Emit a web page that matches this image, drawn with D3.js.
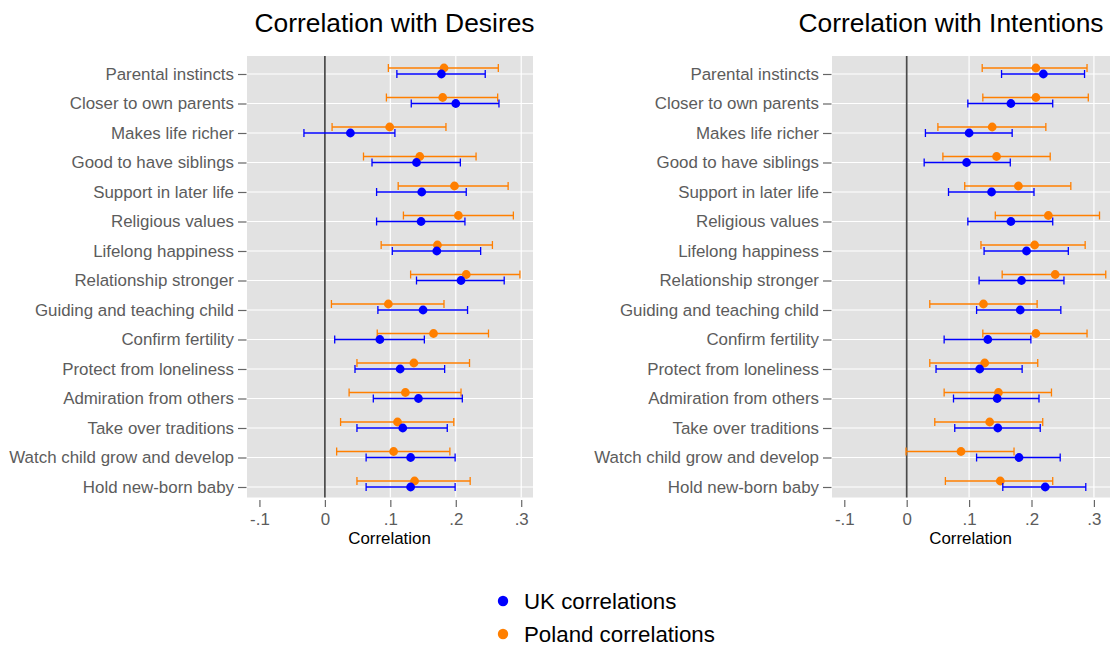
<!DOCTYPE html>
<html>
<head>
<meta charset="utf-8">
<script src="https://d3js.org/d3.v7.min.js"></script>
<style>
  body { margin: 0; background: #fff; }
  svg text { font-family: "Liberation Sans", Arial, sans-serif; }
  .cat { fill: #5c5c5c; font-size: 16.9px; }
  .tick-label { fill: #5c5c5c; font-size: 16.9px; }
  .ptitle { fill: #000; font-size: 26.4px; }
  .xtitle { fill: #000; font-size: 16.9px; }
  .legend { fill: #000; font-size: 22.3px; }
</style>
</head>
<body>
<svg width="1112" height="646"></svg>
<script>
// categories, top to bottom
var categories = [
  "Parental instincts", "Closer to own parents", "Makes life richer",
  "Good to have siblings", "Support in later life", "Religious values",
  "Lifelong happiness", "Relationship stronger", "Guiding and teaching child",
  "Confirm fertility", "Protect from loneliness", "Admiration from others",
  "Take over traditions", "Watch child grow and develop", "Hold new-born baby"
];

var tickValues = [-0.1, 0, 0.1, 0.2, 0.3];
var tickLabels = ["-.1", "0", ".1", ".2", ".3"];

// Desires: [estimate, low, high]
var desiresUK = [
  [0.178, 0.110, 0.245], [0.200, 0.132, 0.266], [0.039, -0.032, 0.107],
  [0.140, 0.072, 0.207], [0.148, 0.079, 0.216], [0.147, 0.079, 0.214],
  [0.171, 0.103, 0.238], [0.208, 0.140, 0.274], [0.150, 0.081, 0.218],
  [0.084, 0.015, 0.152], [0.115, 0.046, 0.183], [0.143, 0.074, 0.210],
  [0.119, 0.049, 0.187], [0.131, 0.063, 0.199], [0.131, 0.063, 0.199]
];
var desiresPL = [
  [0.182, 0.097, 0.265], [0.180, 0.094, 0.264], [0.099, 0.011, 0.185],
  [0.145, 0.059, 0.231], [0.198, 0.112, 0.280], [0.204, 0.120, 0.288],
  [0.172, 0.086, 0.256], [0.216, 0.131, 0.298], [0.097, 0.010, 0.182],
  [0.166, 0.080, 0.250], [0.136, 0.049, 0.221], [0.123, 0.037, 0.208],
  [0.111, 0.024, 0.197], [0.105, 0.018, 0.191], [0.137, 0.049, 0.222]
];

// Intentions: [estimate, low, high]
var intentionsUK = [
  [0.219, 0.152, 0.285], [0.167, 0.098, 0.234], [0.100, 0.030, 0.169],
  [0.096, 0.028, 0.166], [0.136, 0.067, 0.204], [0.167, 0.098, 0.234],
  [0.192, 0.124, 0.259], [0.184, 0.116, 0.252], [0.182, 0.112, 0.247],
  [0.130, 0.060, 0.199], [0.117, 0.047, 0.185], [0.145, 0.075, 0.212],
  [0.146, 0.077, 0.214], [0.180, 0.112, 0.246], [0.222, 0.154, 0.287]
];
var intentionsPL = [
  [0.207, 0.121, 0.289], [0.207, 0.122, 0.291], [0.137, 0.050, 0.223],
  [0.144, 0.058, 0.230], [0.179, 0.093, 0.263], [0.227, 0.142, 0.309],
  [0.205, 0.119, 0.286], [0.238, 0.153, 0.319], [0.123, 0.037, 0.209],
  [0.207, 0.122, 0.289], [0.125, 0.037, 0.210], [0.147, 0.060, 0.232],
  [0.133, 0.045, 0.218], [0.087, -0.001, 0.172], [0.150, 0.062, 0.234]
];

var seriesNames = ["UK correlations", "Poland correlations"];
var seriesColors = ["#0000ff", "#ff7f00"];

var svg = d3.select("svg");

function toRows(arr) {
  return arr.map(function (d, i) {
    return { cat: categories[i], est: d[0], lo: d[1], hi: d[2] };
  });
}

function drawPanel(opts) {
  var x = d3.scaleLinear().domain(opts.domain).range([opts.left, opts.right]);
  var y = d3.scalePoint().domain(categories).range([74, 487]);
  var top = 56, bottom = 497.5;
  // dodge: UK on the row, Poland a bit above
  var dodge = d3.scaleOrdinal().domain([0, 1]).range([0, -6]);

  var g = svg.append("g");

  g.append("rect")
    .attr("x", opts.left).attr("y", top)
    .attr("width", opts.right - opts.left).attr("height", bottom - top)
    .attr("fill", "#e2e2e2");

  // grid
  g.selectAll(".hgrid").data(categories).enter().append("line")
    .attr("x1", opts.left).attr("x2", opts.right)
    .attr("y1", function (d) { return y(d); })
    .attr("y2", function (d) { return y(d); })
    .attr("stroke", "#fff").attr("stroke-width", 1.2);
  g.selectAll(".vgrid").data([0.1, 0.2, 0.3]).enter().append("line")
    .attr("x1", function (d) { return x(d); })
    .attr("x2", function (d) { return x(d); })
    .attr("y1", top).attr("y2", bottom)
    .attr("stroke", "#fff").attr("stroke-width", 1.2);

  // zero line
  g.append("line")
    .attr("x1", x(0)).attr("x2", x(0))
    .attr("y1", top).attr("y2", bottom)
    .attr("stroke", "#4a4a4a").attr("stroke-width", 1.7);

  // y axis
  var ya = g.append("g")
    .attr("transform", "translate(" + (opts.left - 0.5) + ",0)")
    .call(d3.axisLeft(y).tickSize(8.5).tickPadding(4));
  ya.select(".domain").remove();
  ya.selectAll("line").attr("stroke", "#666").attr("stroke-width", 1.2);
  ya.selectAll("text").attr("class", "cat").attr("font-size", null)
    .attr("font-family", null).attr("fill", null);

  // x axis
  var xa = g.append("g")
    .attr("transform", "translate(0," + (bottom + 2.5) + ")")
    .call(d3.axisBottom(x).tickValues(tickValues).tickSize(7).tickPadding(6)
      .tickFormat(function (d, i) { return tickLabels[i]; }));
  xa.select(".domain").remove();
  xa.selectAll("line").attr("stroke", "#666").attr("stroke-width", 1.2);
  xa.selectAll("text").attr("class", "tick-label").attr("font-size", null)
    .attr("font-family", null).attr("fill", null);

  g.append("text").attr("class", "xtitle")
    .attr("x", (opts.left + opts.right) / 2 - 0.5).attr("y", 544)
    .attr("text-anchor", "middle").text("Correlation");

  g.append("text").attr("class", "ptitle")
    .attr("x", opts.titleX).attr("y", 32)
    .attr("text-anchor", "middle").text(opts.title);

  // series: draw Poland first then UK on top
  [1, 0].forEach(function (s) {
    var rows = toRows(opts.series[s]);
    var col = seriesColors[s];
    var sg = g.append("g");
    var cap = 4;
    sg.selectAll(".bar").data(rows).enter().append("line")
      .attr("x1", function (d) { return x(d.lo); })
      .attr("x2", function (d) { return x(d.hi); })
      .attr("y1", function (d) { return y(d.cat) + dodge(s); })
      .attr("y2", function (d) { return y(d.cat) + dodge(s); })
      .attr("stroke", col).attr("stroke-width", 1.3);
    sg.selectAll(".capl").data(rows).enter().append("line")
      .attr("x1", function (d) { return x(d.lo); })
      .attr("x2", function (d) { return x(d.lo); })
      .attr("y1", function (d) { return y(d.cat) + dodge(s) - cap; })
      .attr("y2", function (d) { return y(d.cat) + dodge(s) + cap; })
      .attr("stroke", col).attr("stroke-width", 1.3);
    sg.selectAll(".caph").data(rows).enter().append("line")
      .attr("x1", function (d) { return x(d.hi); })
      .attr("x2", function (d) { return x(d.hi); })
      .attr("y1", function (d) { return y(d.cat) + dodge(s) - cap; })
      .attr("y2", function (d) { return y(d.cat) + dodge(s) + cap; })
      .attr("stroke", col).attr("stroke-width", 1.3);
    sg.selectAll(".pt").data(rows).enter().append("circle")
      .attr("cx", function (d) { return x(d.est); })
      .attr("cy", function (d) { return y(d.cat) + dodge(s); })
      .attr("r", 4.4)
      .attr("fill", col);
  });
}

drawPanel({
  left: 247, right: 533, domain: [-0.119, 0.318],
  title: "Correlation with Desires", titleX: 394.5,
  series: [desiresUK, desiresPL]
});
drawPanel({
  left: 832, right: 1110, domain: [-0.1197, 0.3258],
  title: "Correlation with Intentions", titleX: 951,
  series: [intentionsUK, intentionsPL]
});

// legend
var lg = svg.append("g").attr("transform", "translate(503,601)");
var ly = d3.scalePoint().domain(seriesNames).range([0, 33]);
seriesNames.forEach(function (name, i) {
  lg.append("circle").attr("cx", 0).attr("cy", ly(name)).attr("r", 5.2)
    .attr("fill", seriesColors[i]);
  lg.append("text").attr("class", "legend")
    .attr("x", 21).attr("y", ly(name)).attr("dy", "0.35em").text(name);
});
</script>
</body>
</html>
